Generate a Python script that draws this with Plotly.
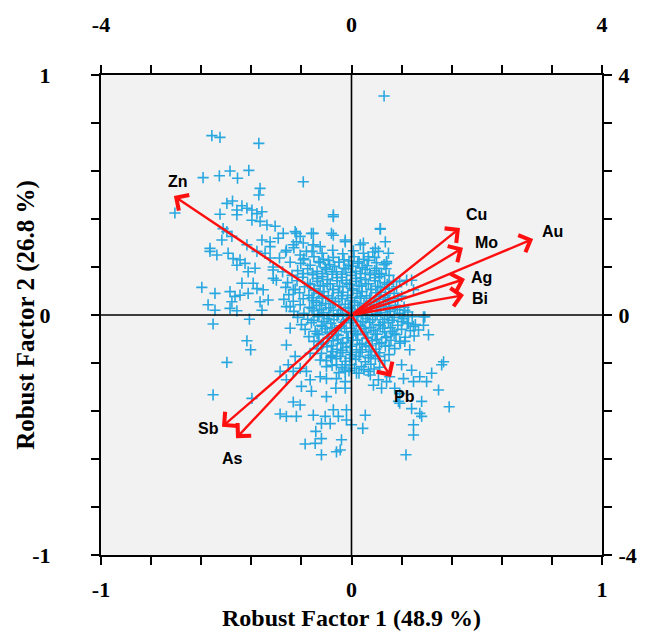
import plotly.graph_objects as go

# ---------------- data ----------------
# Variable loadings (primary axes, -1..1)
elements = ["Zn", "Cu", "Mo", "Au", "Ag", "Bi", "Pb", "Sb", "As"]
load_f1 = [-0.709, 0.433, 0.445, 0.725, 0.453, 0.449, 0.158, -0.517, -0.461]
load_f2 = [0.496, 0.3625, 0.280, 0.317, 0.150, 0.083, -0.258, -0.466, -0.514]

# Sample scores (secondary axes, -4..4)
outer_upper_left = [
    (-2.23, 2.99), (-2.10, 2.96), (-1.48, 2.86), (-2.37, 2.29), (-2.11, 2.32), (-1.94, 2.40),
    (-1.82, 2.28), (-1.64, 2.41), (-0.77, 2.22), (-1.46, 2.11), (-1.48, 2.00), (-2.82, 1.70),
    (-1.99, 1.86), (-1.90, 1.90), (-1.83, 1.75), (-1.75, 1.82), (-1.67, 1.78), (-1.59, 1.75),
    (-1.51, 1.69), (-1.43, 1.72), (-1.83, 1.67), (-2.10, 1.68), (-1.59, 1.58), (-1.46, 1.56),
    (-1.35, 1.50), (-1.22, 1.48), (-0.29, 1.64), (-2.05, 1.44), (-1.99, 1.39), (-1.91, 1.31),
    (-2.07, 1.25), (-1.09, 1.36), (-0.90, 1.39), (-0.82, 1.31), (-0.61, 1.36), (-0.32, 1.36),
    (-1.43, 1.25), (-1.30, 1.22), (-1.17, 1.28), (-0.88, 1.22), (-0.77, 1.20), (-0.61, 1.17),
    (-0.10, 1.25), (-1.67, 1.17), (-2.26, 1.11), (-2.26, 1.06), (-2.15, 1.00), (-1.97, 1.03),
    (-1.89, 0.94), (-1.78, 0.92), (-1.70, 0.86), (-1.83, 0.83), (-1.65, 0.72), (-1.54, 0.78),
    (-1.75, 0.53), (-1.57, 0.53), (-2.39, 0.46), (-2.18, 0.36), (-1.94, 0.39), (-1.86, 0.31),
    (-1.78, 0.33), (-1.65, 0.36), (-1.51, 0.44), (-1.41, 0.42), (-1.91, 0.22), (-1.46, 0.22),
    (-1.33, 0.25), (-2.29, 0.17), (-2.18, 0.08), (-1.94, 0.11), (-1.83, 0.07), (-1.43, 0.08),
    (-1.25, 0.75), (-1.25, 0.61), (-1.30, 1.14), (-1.38, 1.03), (-1.51, 1.06), (-1.04, 1.08),
    (-0.93, 1.17), (-0.72, 1.06), (-0.61, 1.17), (-0.82, 1.00), (-0.93, 0.42), (-1.04, 0.14),
    (-0.77, 0.92), (-0.77, 0.69), (-0.50, 1.14), (-1.15, 0.95), (-1.10, 0.72), (-1.20, 0.58),
    (-0.98, 0.88), (-1.05, 1.05), (-1.25, 0.80), (-0.92, 1.12), (-1.30, 0.95),
]
outer_lower_left = [
    (-2.21, -0.15), (-1.63, -0.07), (-0.98, -0.22), (-1.67, -0.43), (-1.61, -0.58), (-1.99, -0.79),
    (-1.04, -0.50), (-0.90, -0.69), (-1.01, -0.83), (-1.14, -0.94), (-0.93, -0.94), (-0.82, -0.89),
    (-0.72, -0.94), (-1.04, -1.08), (-0.80, -1.19), (-0.64, -1.27), (-0.66, -1.08), (-0.50, -1.03),
    (-0.40, -1.06), (-0.24, -1.06), (-0.10, -1.11), (-0.10, -1.22), (-0.25, -1.22), (-0.40, -1.36),
    (-2.21, -1.33), (-1.59, -1.39), (-0.93, -1.45), (-0.82, -1.50), (-1.14, -1.65), (-1.04, -1.69),
    (-0.88, -1.69), (-0.61, -1.67), (-0.42, -1.69), (-0.29, -1.58), (-0.21, -1.69), (-0.08, -1.58),
    (-0.48, -1.81), (-0.34, -1.81), (-0.08, -1.75), (-0.57, -1.94), (-0.48, -2.06), (-0.74, -2.15),
    (-0.58, -2.14), (-0.16, -2.08), (-0.18, -2.25), (-0.48, -2.33), (-0.53, -0.44), (-0.66, -0.64),
    (-0.50, -0.75), (-0.32, -0.69), (-0.24, -0.83), (-0.40, -0.86), (-0.10, -0.83), (-0.10, -0.94),
    (0.00, -1.83), (-0.24, -2.28),
]
outer_right = [
    (0.83, -0.03), (0.91, -0.14), (0.99, -0.19), (1.07, -0.25), (1.15, -0.17), (1.23, -0.33),
    (1.17, -0.03), (0.77, -0.44), (0.85, -0.44), (0.93, -0.58), (0.80, -0.83), (0.96, -0.92),
    (1.09, -1.03), (0.99, -1.11), (0.83, -1.06), (1.20, -1.11), (1.28, -0.97), (1.44, -0.83),
    (1.47, -0.78), (1.39, -1.25), (1.56, -1.53), (0.77, -1.47), (0.96, -1.56), (1.12, -1.44),
    (1.09, -1.64), (1.12, -1.69), (0.99, -1.83), (0.99, -2.00), (0.87, -2.33), (0.22, -1.67),
    (0.18, -1.89), (0.08, -0.97), (0.30, -1.00), (0.35, -1.17), (0.48, -1.22), (0.56, -1.11),
    (0.69, -1.22), (0.77, -1.31), (0.75, -1.44), (0.43, -1.08), (0.61, -1.03),
    (0.52, 3.65), (0.46, 1.44), (0.54, 1.22), (0.59, 1.03), (0.56, 0.86), (0.38, 1.11),
    (0.19, 1.20), (0.14, 1.17), (0.43, 1.06), (0.27, 0.97), (0.40, 0.78), (0.48, 0.69),
    (0.77, 0.56), (0.96, 0.58), (0.80, 0.31), (0.85, 0.08), (-0.29, 1.33), (-0.10, 1.22),
    (-0.64, 1.36), (-0.88, 1.36), (-0.29, 1.67), (0.46, 1.43), (0.56, 0.89), (0.88, 0.58),
    (0.99, 0.42), (1.15, -0.03),
]
core = [
    (-0.63, 1.06), (-0.47, 1.03), (-0.30, 1.08), (-0.14, 1.02), (0.03, 1.07), (0.19, 1.03), (0.34, 1.05),
    (-0.76, 0.94), (-0.60, 0.97), (-0.45, 0.93), (-0.29, 0.96), (-0.12, 0.92), (0.04, 0.97), (0.20, 0.93), (0.37, 0.96),
    (-0.81, 0.86), (-0.66, 0.83), (-0.50, 0.87), (-0.35, 0.84), (-0.20, 0.88), (-0.05, 0.83), (0.10, 0.86), (0.25, 0.82),
    (0.40, 0.87), (0.52, 0.84),
    (-0.86, 0.74), (-0.70, 0.77), (-0.55, 0.73), (-0.40, 0.76), (-0.24, 0.72), (-0.09, 0.77), (0.07, 0.73), (0.22, 0.76),
    (0.37, 0.74), (0.55, 0.77),
    (-0.95, 0.66), (-0.78, 0.63), (-0.62, 0.67), (-0.47, 0.64), (-0.31, 0.68), (-0.16, 0.63), (0.00, 0.66), (0.15, 0.62),
    (0.30, 0.67), (0.45, 0.64), (0.60, 0.66),
    (-1.02, 0.54), (-0.87, 0.57), (-0.70, 0.53), (-0.54, 0.56), (-0.39, 0.52), (-0.23, 0.57), (-0.08, 0.53), (0.08, 0.56),
    (0.23, 0.52), (0.38, 0.57), (0.53, 0.54), (0.67, 0.56),
    (-1.05, 0.46), (-0.90, 0.43), (-0.75, 0.47), (-0.60, 0.44), (-0.45, 0.48), (-0.30, 0.43), (-0.14, 0.47), (0.01, 0.44),
    (0.16, 0.48), (0.31, 0.43), (0.46, 0.46), (0.60, 0.44), (0.72, 0.47),
    (-1.00, 0.34), (-0.83, 0.37), (-0.68, 0.33), (-0.52, 0.36), (-0.37, 0.32), (-0.21, 0.37), (-0.06, 0.33), (0.09, 0.36),
    (0.24, 0.32), (0.39, 0.37), (0.54, 0.33), (0.68, 0.36),
    (-1.08, 0.26), (-0.93, 0.23), (-0.77, 0.27), (-0.61, 0.24), (-0.46, 0.28), (-0.30, 0.23), (-0.15, 0.27), (0.00, 0.24),
    (0.15, 0.28), (0.30, 0.23), (0.45, 0.26), (0.60, 0.24), (0.74, 0.27),
    (-0.98, 0.14), (-0.82, 0.17), (-0.67, 0.13), (-0.51, 0.16), (-0.36, 0.12), (-0.20, 0.17), (-0.05, 0.13), (0.10, 0.16),
    (0.25, 0.12), (0.40, 0.17), (0.55, 0.14), (0.70, 0.16), (0.84, 0.13),
    (-0.92, 0.06), (-0.76, 0.03), (-0.60, 0.07), (-0.45, 0.04), (-0.29, 0.08), (-0.14, 0.03), (0.02, 0.06), (0.17, 0.02),
    (0.32, 0.07), (0.47, 0.04), (0.62, 0.06), (0.77, 0.03), (0.90, 0.05),
    (-0.86, -0.04), (-0.70, -0.07), (-0.54, -0.03), (-0.39, -0.06), (-0.23, -0.02), (-0.08, -0.07), (0.08, -0.03),
    (0.23, -0.06), (0.38, -0.02), (0.53, -0.07), (0.68, -0.04), (0.83, -0.06), (0.97, -0.03),
    (-0.80, -0.16), (-0.64, -0.13), (-0.48, -0.17), (-0.33, -0.14), (-0.17, -0.18), (-0.02, -0.13), (0.14, -0.17),
    (0.29, -0.12), (0.44, -0.16), (0.59, -0.13), (0.74, -0.17), (0.89, -0.14), (1.02, -0.16),
    (-0.74, -0.24), (-0.58, -0.27), (-0.42, -0.23), (-0.27, -0.26), (-0.11, -0.22), (0.04, -0.27), (0.20, -0.23),
    (0.35, -0.26), (0.50, -0.22), (0.65, -0.27), (0.80, -0.24), (0.94, -0.26),
    (-0.68, -0.36), (-0.52, -0.33), (-0.36, -0.37), (-0.21, -0.34), (-0.05, -0.38), (0.10, -0.33), (0.26, -0.37),
    (0.41, -0.32), (0.56, -0.36), (0.71, -0.33), (0.86, -0.37), (1.00, -0.35),
    (-0.60, -0.44), (-0.45, -0.47), (-0.29, -0.43), (-0.14, -0.46), (0.02, -0.42), (0.17, -0.47), (0.33, -0.43),
    (0.48, -0.46), (0.63, -0.42), (0.78, -0.47),
    (-0.55, -0.56), (-0.39, -0.53), (-0.23, -0.57), (-0.08, -0.54), (0.08, -0.58), (0.23, -0.53), (0.39, -0.57),
    (0.54, -0.52), (0.69, -0.56),
    (-0.48, -0.64), (-0.32, -0.67), (-0.17, -0.63), (-0.01, -0.66), (0.14, -0.62), (0.30, -0.67), (0.45, -0.63), (0.60, -0.66),
    (-0.40, -0.76), (-0.24, -0.73), (-0.09, -0.77), (0.07, -0.74), (0.22, -0.78), (0.38, -0.73), (0.53, -0.76),
    (-0.31, -0.84), (-0.15, -0.87), (0.00, -0.83), (0.16, -0.86), (0.31, -0.82), (0.45, -0.87),
    (-0.20, -0.96), (-0.04, -0.93), (0.12, -0.97), (0.27, -0.94),
]
core_dense = [
    (-0.42, 0.79), (-0.27, 0.81), (-0.12, 0.78), (0.02, 0.81), (0.17, 0.79),
    (-0.55, 0.61), (-0.38, 0.59), (-0.23, 0.62), (-0.08, 0.58), (0.07, 0.61), (0.22, 0.59), (0.37, 0.62),
    (-0.60, 0.41), (-0.44, 0.39), (-0.29, 0.42), (-0.14, 0.38), (0.02, 0.41), (0.17, 0.39), (0.32, 0.42), (0.47, 0.38),
    (-0.56, 0.21), (-0.41, 0.19), (-0.26, 0.22), (-0.10, 0.18), (0.05, 0.21), (0.20, 0.19), (0.36, 0.22), (0.51, 0.18),
    (-0.52, 0.01), (-0.36, -0.01), (-0.21, 0.02), (-0.05, -0.02), (0.10, 0.01), (0.26, -0.01), (0.41, 0.02), (0.57, -0.01),
    (-0.47, -0.19), (-0.31, -0.21), (-0.16, -0.18), (0.00, -0.22), (0.15, -0.19), (0.31, -0.21), (0.46, -0.18), (0.62, -0.21),
    (-0.38, -0.39), (-0.22, -0.41), (-0.07, -0.38), (0.09, -0.42), (0.24, -0.39), (0.40, -0.41), (0.55, -0.38),
    (-0.30, -0.61), (-0.14, -0.59), (0.01, -0.62), (0.17, -0.58), (0.32, -0.61),
    (-0.52, 0.89), (-0.37, 0.91), (-0.20, 0.88), (-0.04, 0.90), (0.12, 0.89), (0.27, 0.91),
    (-0.62, 0.70), (-0.46, 0.69), (-0.30, 0.72), (-0.15, 0.68), (0.00, 0.71), (0.14, 0.69), (0.29, 0.70), (0.44, 0.68),
    (-0.66, 0.51), (-0.50, 0.49), (-0.34, 0.52), (-0.19, 0.48), (-0.03, 0.51), (0.12, 0.49), (0.27, 0.52), (0.42, 0.48),
    (0.57, 0.51),
    (-0.63, 0.29), (-0.47, 0.31), (-0.31, 0.28), (-0.16, 0.32), (0.00, 0.29), (0.14, 0.31), (0.29, 0.28), (0.44, 0.31),
    (0.58, 0.29),
    (-0.63, 0.11), (-0.48, 0.09), (-0.33, 0.12), (-0.17, 0.08), (-0.02, 0.11), (0.13, 0.09), (0.29, 0.12), (0.44, 0.08),
    (0.60, 0.11), (0.73, 0.09),
    (-0.60, -0.09), (-0.44, -0.11), (-0.28, -0.08), (-0.13, -0.12), (0.03, -0.09), (0.18, -0.11), (0.34, -0.08),
    (0.50, -0.12), (0.65, -0.09), (0.80, -0.11),
    (-0.55, -0.31), (-0.39, -0.29), (-0.24, -0.32), (-0.08, -0.28), (0.07, -0.31), (0.23, -0.29), (0.38, -0.32),
    (0.53, -0.28), (0.68, -0.31),
    (-0.48, -0.49), (-0.32, -0.51), (-0.17, -0.48), (-0.02, -0.52), (0.13, -0.49), (0.28, -0.51), (0.44, -0.48), (0.60, -0.51),
    (-0.33, -0.71), (-0.18, -0.69), (-0.03, -0.72), (0.12, -0.69), (0.27, -0.71), (0.43, -0.69),
    (-0.10, -0.90), (0.05, -0.89), (0.20, -0.91), (0.36, -0.90),
]

score_pts = outer_upper_left + outer_lower_left + outer_right + core + core_dense
score_f1 = [p[0] for p in score_pts]
score_f2 = [p[1] for p in score_pts]

x_title = "Robust Factor 1 (48.9 %)"
y_title = "Robust Factor 2 (26.8 %)"

# ---------------- figure ----------------
SERIF = "Liberation Serif"
SANS = "Liberation Sans"
BLUE = "#29a8e0"
RED = "#ff1010"

fig = go.Figure()
fig.add_trace(go.Scatter(
    x=score_f1, y=score_f2, xaxis="x2", yaxis="y2", mode="markers",
    marker=dict(symbol="cross-thin", size=8, line=dict(color=BLUE, width=1.6), color=BLUE),
    hoverinfo="skip", showlegend=False,
))

tickfont = dict(family=SERIF, size=22, color="black")
common = dict(showline=True, linecolor="black", linewidth=2, ticks="outside", ticklen=8,
              tickwidth=2, tickcolor="black", showgrid=False, zeroline=False, tickfont=tickfont,
              fixedrange=True)
minor_style = dict(ticks="outside", ticklen=8, tickwidth=2, tickcolor="black")

fig.update_layout(
    width=657, height=633,
    margin=dict(l=101, r=55, t=75, b=78),
    paper_bgcolor="white", plot_bgcolor="#f2f2f2",
    xaxis=dict(range=[-1, 1], tickvals=[-1, 0, 1], ticktext=["<b>-1</b>", "<b>0</b>", "<b>1</b>"],
               minor=dict(dtick=0.2, tick0=-1, **minor_style),
               ticklabelstandoff=6, **common),
    yaxis=dict(range=[-1, 1], tickvals=[-1, 0, 1], ticktext=["<b>-1</b>", "<b>0</b>", "<b>1</b>"],
               minor=dict(dtick=0.2, tick0=-1, **minor_style),
               ticklabelstandoff=36, **common),
    xaxis2=dict(range=[-4, 4], overlaying="x", side="top", anchor="y",
                tickvals=[-4, 0, 4], ticktext=["<b>-4</b>", "<b>0</b>", "<b>4</b>"],
                minor=dict(dtick=0.8, tick0=-4, **minor_style),
                ticklabelstandoff=24, **common),
    yaxis2=dict(range=[-4, 4], overlaying="y", side="right", anchor="x",
                tickvals=[-4, 0, 4], ticktext=["<b>-4</b>", "<b>0</b>", "<b>4</b>"],
                minor=dict(dtick=0.8, tick0=-4, **minor_style),
                ticklabelstandoff=2, **common),
)

# centre cross lines drawn above the points
fig.add_shape(type="line", xref="x", yref="paper", x0=0, x1=0, y0=0, y1=1,
              line=dict(color="black", width=1.6), layer="above")
fig.add_shape(type="line", xref="paper", yref="y", x0=0, x1=1, y0=0, y1=0,
              line=dict(color="black", width=1.6), layer="above")

# label offsets (in loading units) relative to the arrow tips
label_dx = [0.016, 0.064, 0.092, 0.079, 0.064, 0.064, 0.052, -0.052, -0.016]
label_dy = [0.062, 0.055, 0.024, 0.029, 0.008, -0.016, -0.080, -0.005, -0.082]

for name, fx, fy, dx, dy in zip(elements, load_f1, load_f2, label_dx, label_dy):
    fig.add_annotation(x=fx, y=fy, ax=0, ay=0, xref="x", yref="y", axref="x", ayref="y",
                       showarrow=True, arrowhead=4, arrowsize=1.5, arrowwidth=2.4,
                       arrowcolor=RED, standoff=0, text="")
    fig.add_annotation(x=fx + dx, y=fy + dy, xref="x", yref="y", text=f"<b>{name}</b>",
                       showarrow=False, font=dict(family=SANS, size=16, color="black"))

fig.add_annotation(xref="paper", yref="paper", x=0.5, y=-0.131, text=f"<b>{x_title}</b>",
                   showarrow=False, xanchor="center", yanchor="middle",
                   font=dict(family=SERIF, size=24, color="black"))
fig.add_annotation(xref="paper", yref="paper", x=-0.15, y=0.5, text=f"<b>{y_title}</b>",
                   showarrow=False, textangle=-90, xanchor="center", yanchor="middle",
                   font=dict(family=SERIF, size=25, color="black"))

fig.write_html("out.html")
